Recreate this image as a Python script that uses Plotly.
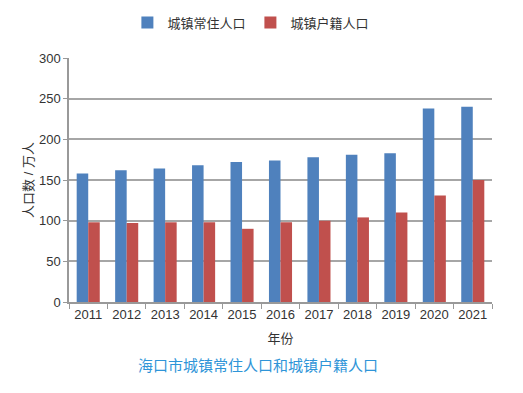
import plotly.graph_objects as go

years = ["2011", "2012", "2013", "2014", "2015", "2016", "2017", "2018", "2019", "2020", "2021"]
resident = [158, 162, 164, 168, 172, 174, 178, 181, 183, 238, 240]
registered = [98, 97, 98, 98, 90, 98, 100, 104, 110, 131, 150]
yticks = [0, 50, 100, 150, 200, 250, 300]

FONT = "Liberation Sans, Arial, Noto Sans CJK SC, sans-serif"
TXT = "#333333"

fig = go.Figure()
fig.add_trace(go.Bar(x=years, y=resident, name="城镇常住人口", marker_color="#4F81BD", marker_line_width=0))
fig.add_trace(go.Bar(x=years, y=registered, name="城镇户籍人口", marker_color="#C0504D", marker_line_width=0))

fig.update_layout(
    width=515, height=385,
    margin=dict(l=61, r=31, t=50, b=91, autoexpand=False),
    paper_bgcolor="white", plot_bgcolor="white",
    barmode="group", bargap=0.40, bargroupgap=0,
    font=dict(family=FONT, size=13, color=TXT),
    showlegend=True,
    legend=dict(orientation="h", x=0.43, xanchor="center", y=1.145, yanchor="middle",
                font=dict(size=13, color=TXT), itemwidth=30, traceorder="normal"),
    xaxis=dict(type="category", showline=True, linecolor="#999999", linewidth=1.5,
               ticks="outside", tickson="boundaries", ticklen=5, tickcolor="#999999",
               tickfont=dict(size=13, color=TXT), showgrid=False,
               title=dict(text="年份", font=dict(size=13, color=TXT), standoff=13)),
    yaxis=dict(range=[0, 300], tickvals=yticks, showline=True, linecolor="#999999", linewidth=1.5,
               ticks="outside", ticklen=4, tickcolor="#999999",
               showgrid=True, gridcolor="#A6A6A6", gridwidth=1.5,
               tickfont=dict(size=13, color=TXT), zeroline=False,
               title=dict(text="人口数 / 万人", font=dict(size=13, color=TXT), standoff=2)),
    annotations=[dict(text="海口市城镇常住人口和城镇户籍人口", xref="paper", yref="paper",
                      x=0.447, y=-0.262, xanchor="center", yanchor="middle", showarrow=False,
                      font=dict(size=15, color="#2F95D8", family=FONT))],
)

fig.write_html("out.html")
